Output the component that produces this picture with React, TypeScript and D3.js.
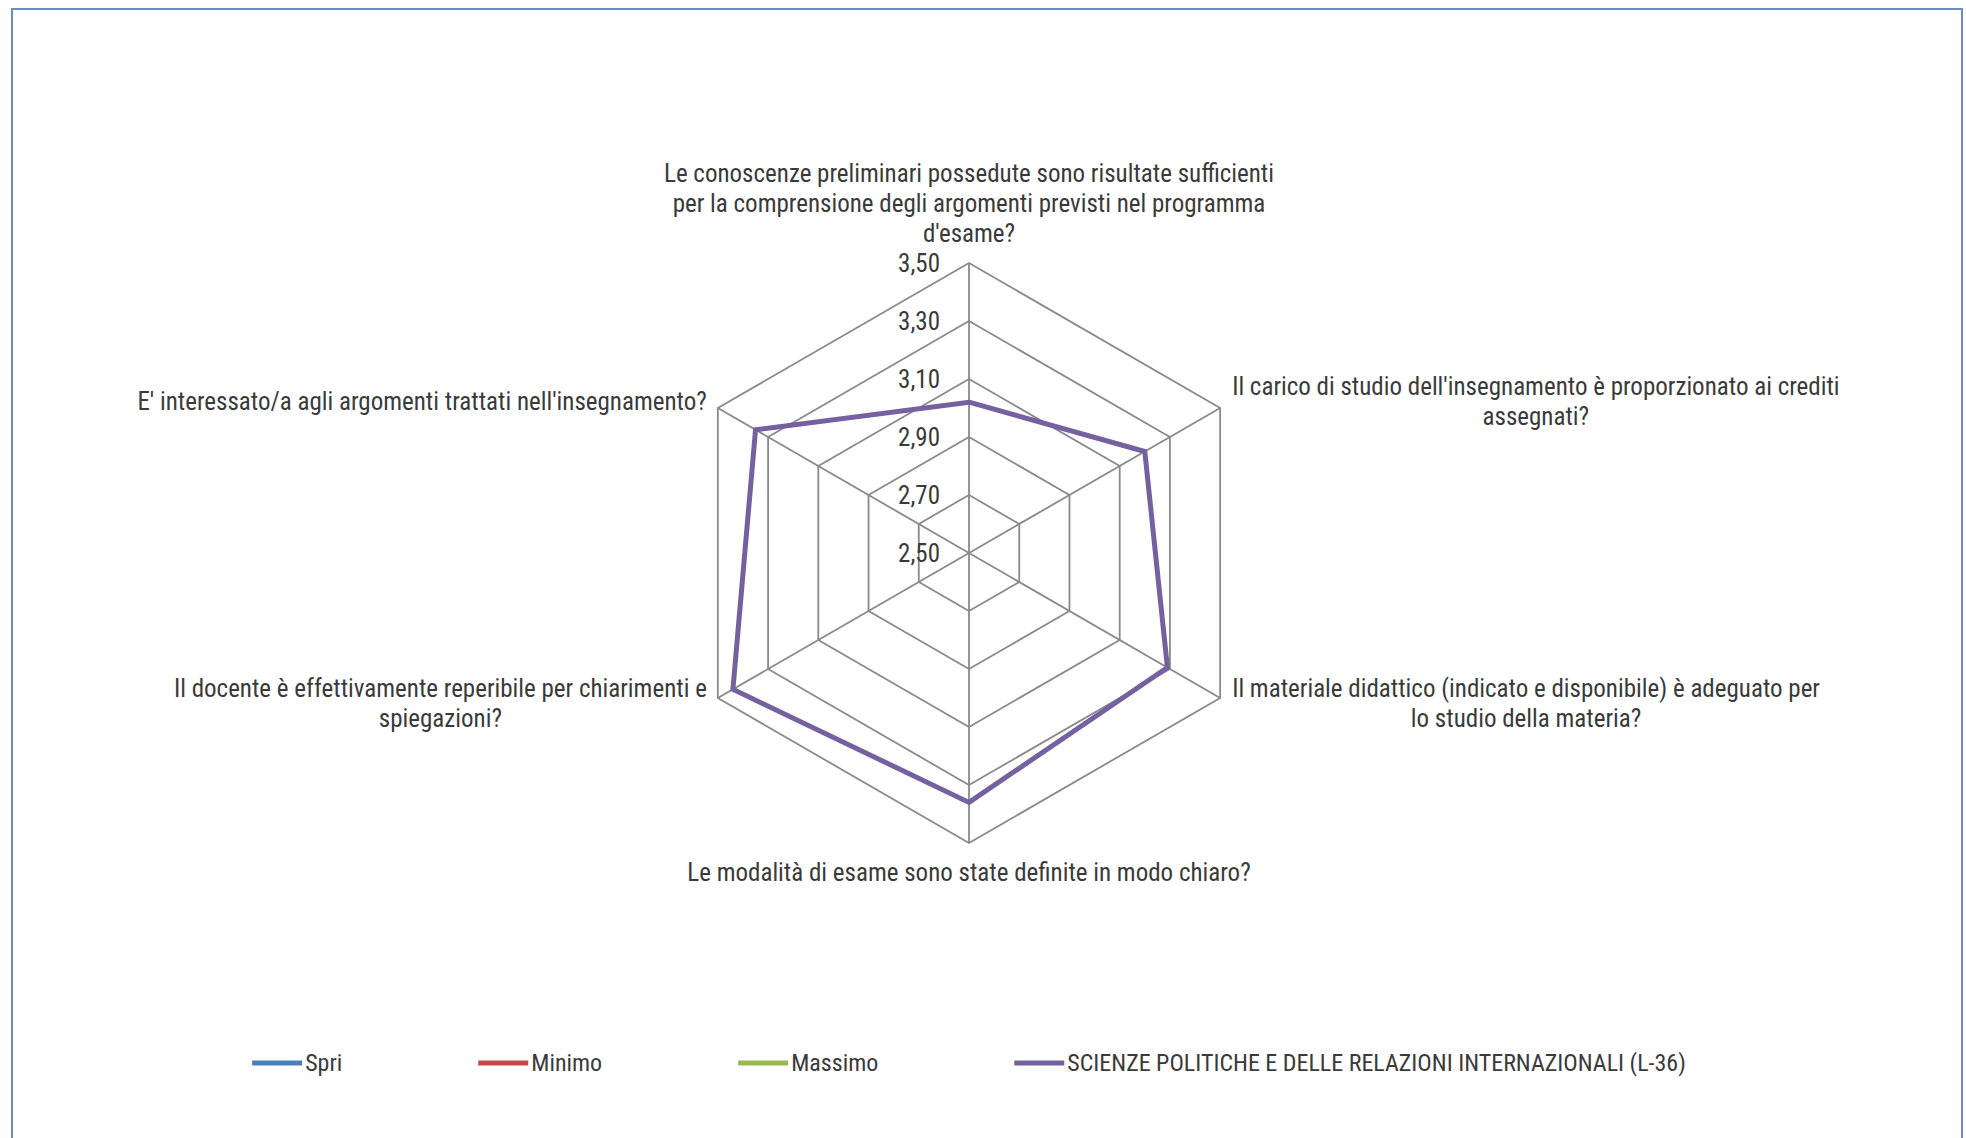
import React, { useEffect, useRef } from "react";
import * as d3 from "d3";

const W = 1966;
const H = 1138;

// axis labels, clockwise from the top ("\n" = line break as in the original)
const categories = [
  "Le conoscenze preliminari possedute sono risultate sufficienti\nper la comprensione degli argomenti previsti nel programma\nd'esame?",
  "Il carico di studio dell'insegnamento è proporzionato ai crediti\nassegnati?",
  "Il materiale didattico (indicato e disponibile) è adeguato per\nlo studio della materia?",
  "Le modalità di esame sono state definite in modo chiaro?",
  "Il docente è effettivamente reperibile per chiarimenti e\nspiegazioni?",
  "E' interessato/a agli argomenti trattati nell'insegnamento?",
];

const seriesNames = [
  "Spri",
  "Minimo",
  "Massimo",
  "SCIENZE POLITICHE E DELLE RELAZIONI INTERNAZIONALI (L-36)",
];
const seriesColors = ["#4a7ebb", "#be4b48", "#98b954", "#7560a0"];

// only the last series has visible values in the picture
const spriValues: number[] = [];
const minimoValues: number[] = [];
const massimoValues: number[] = [];
const scienzeValues = [3.02, 3.2, 3.29, 3.36, 3.44, 3.35];

const tickValues = [2.5, 2.7, 2.9, 3.1, 3.3, 3.5];

const App = () => {
  const svgRef = useRef<SVGSVGElement>(null);

  useEffect(() => {
    const svg = d3.select(svgRef.current);
    svg.selectAll("*").remove();

    const cx = 969;
    const cy = 553;
    const R = 290;
    const font = "'Liberation Sans Narrow', 'Arial Narrow', 'Roboto Condensed', sans-serif";
    const fs = 25;
    const textColor = "#3a3a3a";
    const lineH = 30;

    //scales
    const n = categories.length;
    const r = d3.scaleLinear().domain([2.5, 3.5]).range([0, R]);
    const angle = d3.scaleLinear().domain([0, n]).range([0, 2 * Math.PI]);
    const radial = d3
      .lineRadial<number>()
      .angle((d, i) => angle(i))
      .radius((d) => r(d))
      .curve(d3.curveLinearClosed);

    //chart frame
    svg
      .append("rect")
      .attr("x", 12)
      .attr("y", 9)
      .attr("width", 1950)
      .attr("height", 1170)
      .attr("fill", "#fff")
      .attr("stroke", "#6b8cba")
      .attr("stroke-width", 2);

    const g = svg.append("g").attr("transform", `translate(${cx},${cy})`);

    //grid rings
    tickValues.slice(1).forEach((t) => {
      g.append("path")
        .attr("d", radial(d3.range(n).map(() => t)))
        .attr("fill", "none")
        .attr("stroke", "#8a8a8a")
        .attr("stroke-width", 1.8);
    });

    //spokes
    d3.range(n).forEach((i) => {
      g.append("line")
        .attr("x1", 0)
        .attr("y1", 0)
        .attr("x2", r(3.5) * Math.sin(angle(i)))
        .attr("y2", -r(3.5) * Math.cos(angle(i)))
        .attr("stroke", "#8a8a8a")
        .attr("stroke-width", 1.8);
    });

    //tick labels on the top axis
    tickValues.forEach((t) => {
      g.append("text")
        .attr("x", -29)
        .attr("y", -r(t))
        .attr("text-anchor", "end")
        .attr("dominant-baseline", "central")
        .attr("font-family", font)
        .attr("font-size", fs)
        .attr("fill", textColor)
        .text(d3.format(".2f")(t).replace(".", ","));
    });

    //series
    [spriValues, minimoValues, massimoValues, scienzeValues].forEach((vals, k) => {
      if (!vals.length) return;
      g.append("path")
        .attr("d", radial(vals))
        .attr("fill", "none")
        .attr("stroke", seriesColors[k])
        .attr("stroke-width", 5)
        .attr("stroke-linejoin", "miter");
    });

    //category labels
    categories.forEach((label, i) => {
      const lines = label.split("\n");
      const vx = r(3.5) * Math.sin(angle(i));
      const vy = -r(3.5) * Math.cos(angle(i));
      const grp = g.append("g");
      const texts = lines.map((l) =>
        grp
          .append("text")
          .attr("font-family", font)
          .attr("font-size", fs)
          .attr("fill", textColor)
          .attr("text-anchor", "middle")
          .attr("dominant-baseline", "central")
          .text(l)
      );
      const widths = texts.map((t) => (t.node() as SVGTextElement).getComputedTextLength());
      const maxW = d3.max(widths) || 0;
      let mx = 0;
      let firstY = 0;
      if (i === 0) {
        mx = 0;
        firstY = vy - 30 - (lines.length - 1) * lineH;
      } else if (i === n / 2) {
        mx = 0;
        firstY = vy + 29;
      } else {
        mx = vx > 0 ? vx + 12 + maxW / 2 : vx - 11 - maxW / 2;
        const blockC = vy + (vy < 0 ? -7 : 5);
        firstY = blockC - ((lines.length - 1) * lineH) / 2;
      }
      texts.forEach((t, j) => t.attr("x", mx).attr("y", firstY + j * lineH));
    });

    //legend
    const legY = 1063;
    const sw = 50;
    const gap = 136;
    const leg = svg.append("g");
    let x = 0;
    seriesNames.forEach((name, k) => {
      leg
        .append("line")
        .attr("x1", x)
        .attr("x2", x + sw)
        .attr("y1", legY)
        .attr("y2", legY)
        .attr("stroke", seriesColors[k])
        .attr("stroke-width", 5);
      const t = leg
        .append("text")
        .attr("x", x + sw + 3)
        .attr("y", legY)
        .attr("dominant-baseline", "central")
        .attr("font-family", font)
        .attr("font-size", 24)
        .attr("fill", textColor)
        .text(name);
      x += sw + 3 + (t.node() as SVGTextElement).getComputedTextLength() + gap;
    });
    const total = x - gap;
    leg.attr("transform", `translate(${cx - total / 2},0)`);
  }, []);

  return (
    <svg
      ref={svgRef}
      width={W}
      height={H}
      style={{ position: "absolute", left: 0, top: 0, background: "#fff" }}
    />
  );
};

export default App;
